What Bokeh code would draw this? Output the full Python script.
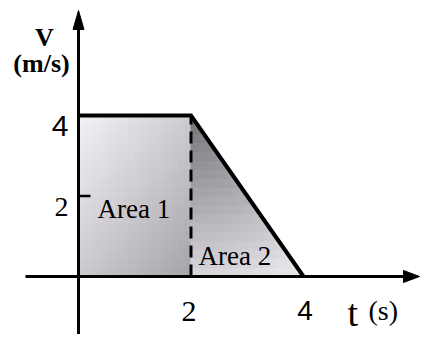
import numpy as np
from bokeh.plotting import figure
from bokeh.models import Label, Range1d
from bokeh.embed import file_html
from bokeh.resources import INLINE

# ---- data ----
t_points = [0, 2, 4]          # time (s)
v_points = [4, 4, 0]          # velocity (m/s)
x_ticks = [2, 4]
x_tick_labels = ["2", "4"]
y_ticks = [2, 4]
y_tick_labels = ["2", "4"]
area_labels = ["Area 1", "Area 2"]

W, H = 420, 334
SX, SY = 56.25, 40.25          # pixels per unit
OX, OY = 78, 276               # origin position in pixels
x0 = -OX / SX
x1 = x0 + W / SX
y1 = OY / SY
y0 = y1 - H / SY
sx = W / (x1 - x0)
sy = H / (y1 - y0)

def at(t, v, dx=0.0, dy=0.0):
    """data point shifted by screen pixels (dy positive = down)"""
    return t + dx / sx, v - dy / sy

p = figure(width=W, height=H, x_range=Range1d(x0, x1), y_range=Range1d(y0, y1),
           output_backend="svg", toolbar_location=None, min_border=0,
           x_axis_location=None, y_axis_location=None)
p.grid.visible = False
p.outline_line_color = None
p.background_fill_color = "white"
p.border_fill_color = "white"

def grey(L):
    L = int(max(0, min(255, L)))
    return "#%02x%02x%02x" % (L, max(0, L - 2), min(255, L + 3))

# ---- shaded area 1 (rectangle) ----
ta, tb, vtop = t_points[0], t_points[1], v_points[0]
n = 18
xs = np.linspace(ta, tb, n + 1)
ys = np.linspace(0, vtop, n + 1)
L_, R_, B_, T_, C_ = [], [], [], [], []
for i in range(n):
    for j in range(n):
        xc = (xs[i] + xs[i + 1]) / 2
        yc = (ys[j] + ys[j + 1]) / 2
        fx = (xc - ta) / (tb - ta)
        fy = 1 - yc / vtop
        L = 244 - 38 * fx - 40 * fy
        L_.append(xs[i]); R_.append(xs[i + 1]); B_.append(ys[j]); T_.append(ys[j + 1])
        C_.append(grey(L))
p.quad(left=L_, right=R_, bottom=B_, top=T_, fill_color=C_, line_color=C_, line_width=1)

# ---- shaded area 2 (triangle) ----
tc = t_points[2]
def xr(y):
    return tb + (tc - tb) * (1 - y / vtop)
PX, PY, PC = [], [], []
fr = np.linspace(0, 1, n + 1)
for j in range(n):
    ya, yb = ys[j], ys[j + 1]
    for i in range(n):
        fa, fb = fr[i], fr[i + 1]
        px = [tb + fa * (xr(ya) - tb), tb + fb * (xr(ya) - tb),
              tb + fb * (xr(yb) - tb), tb + fa * (xr(yb) - tb)]
        py = [ya, ya, yb, yb]
        xc = sum(px) / 4
        yc = (ya + yb) / 2
        d = np.hypot((xc - tb) * sx, (vtop - yc) * sy) / 180.0
        L = 118 + 112 * min(d, 1.0)
        PX.append(px); PY.append(py); PC.append(grey(L))
p.patches(PX, PY, fill_color=PC, line_color=PC, line_width=1)

# ---- graph line and dashed divider ----
p.line(t_points, v_points, line_color="black", line_width=4, line_join="miter")
p.line([t_points[1], t_points[1]], [0, v_points[1]], line_color="black",
       line_width=3, line_dash="12 7")

# ---- axes ----
# y axis
v_tip = y1 - 10 / sy
head_len_y, head_w_y = 19 / sy, 5.5 / sx
p.line([0, 0], [y0, v_tip - head_len_y + 0.02], line_color="black", line_width=3)
p.patch([0, -head_w_y, head_w_y], [v_tip, v_tip - head_len_y, v_tip - head_len_y],
        fill_color="black", line_color="black", line_width=1)
# x axis
t_start = (25 - OX) / sx
t_tip = x1 - 1 / sx
head_len_x, head_w_x = 16 / sx, 6 / sy
p.line([t_start, t_tip - head_len_x + 0.02], [0, 0], line_color="black", line_width=3)
p.patch([t_tip, t_tip - head_len_x, t_tip - head_len_x], [0, head_w_x, -head_w_x],
        fill_color="black", line_color="black", line_width=1)

# tick at v = 2
p.segment(x0=[0], y0=[y_ticks[0]], x1=[12 / sx], y1=[y_ticks[0]],
          line_color="black", line_width=2.5)

SERIF = "Liberation Serif"
SANS = "Liberation Sans"

def lab(txt, xy, size, font=SERIF, align="center", style="normal"):
    p.add_layout(Label(x=xy[0], y=xy[1], text=txt, text_font=font,
                       text_font_size=f"{size}px", text_align=align,
                       text_baseline="alphabetic", text_color="black",
                       text_font_style=style))

# y tick labels
lab(y_tick_labels[1], at(0, y_ticks[1], -10, 10), 30, SANS, "right")
lab(y_tick_labels[0], at(0, y_ticks[0], -10, 10.5), 28, SERIF, "right")
# x tick labels
lab(x_tick_labels[0], at(x_ticks[0], 0, -2, 35), 30, SERIF, "center")
lab(x_tick_labels[1], at(x_ticks[1], 0, 1.5, 34), 28, SANS, "center")

# axis titles
lab("V", at(0, 0, -34, 37 - OY), 26, SERIF, "center", "bold")
lab("(m/s)", at(0, 0, -37, 63 - OY), 26, SERIF, "center", "bold")
lab("t", at(0, 0, 347 - OX, 312 - OY), 38, SERIF, "left")
lab("(s)", at(0, 0, 368 - OX, 310 - OY), 28, SERIF, "left")

# area labels
lab(area_labels[0], at(t_points[0], 0, 19, 208 - OY), 27, SERIF, "left")
lab(area_labels[1], at(t_points[1], 0, 7.5, 255 - OY), 27, SERIF, "left")

open("out.html", "w").write(file_html(p, INLINE))
